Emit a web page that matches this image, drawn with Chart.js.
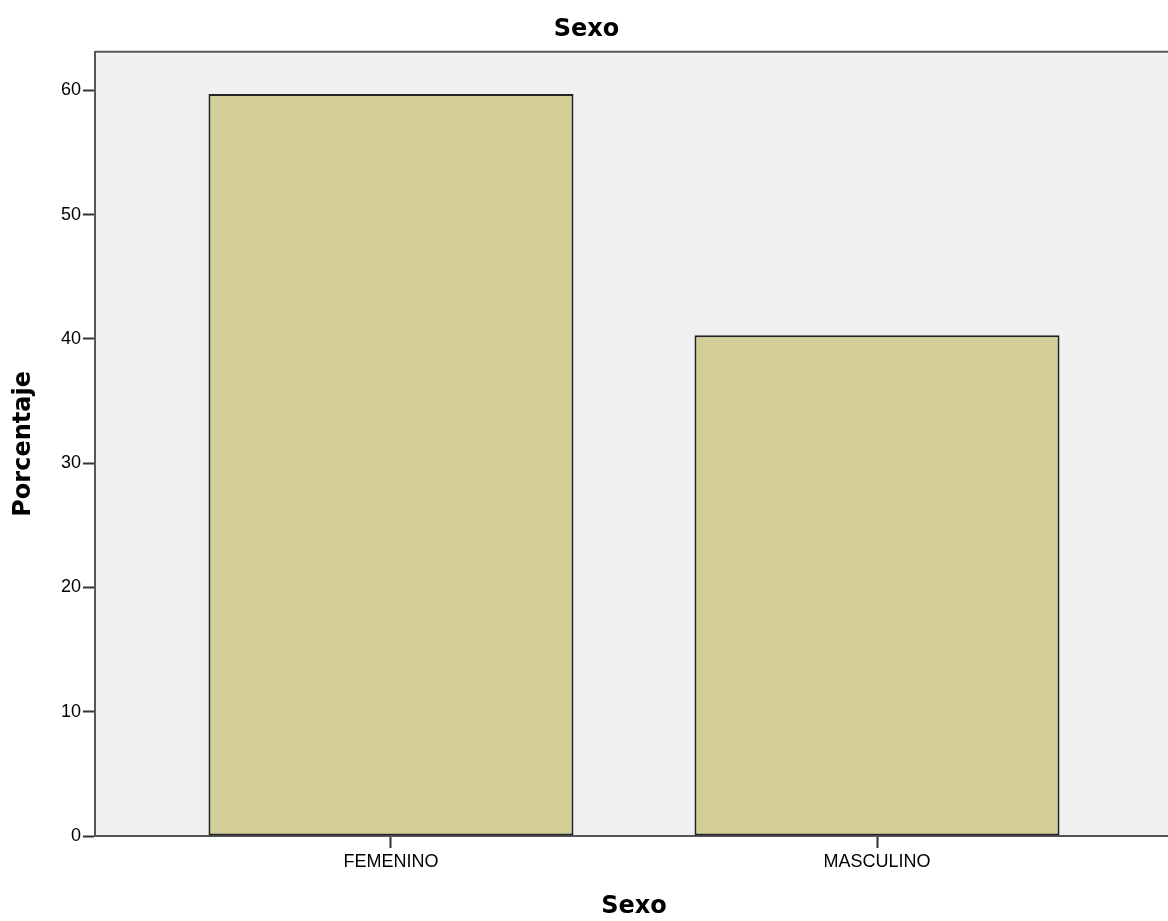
<!DOCTYPE html>
<html>
<head>
<meta charset="utf-8">
<title>Sexo</title>
<script src="https://cdn.jsdelivr.net/npm/chart.js@4.4.1/dist/chart.umd.min.js"></script>
<style>
  html, body { margin: 0; padding: 0; background: #fff; overflow: hidden; }
  #wrap { width: 1176px; height: 921px; }
</style>
</head>
<body>
<div id="wrap"><canvas id="chart" width="1176" height="921"></canvas></div>
<script>
// values
const categories = ['FEMENINO', 'MASCULINO'];
const percentages = [59.7, 40.3];
const yTicks = [0, 10, 20, 30, 40, 50, 60];

// grey plot background plus the top frame line
const plotFrame = {
  id: 'plotFrame',
  beforeDraw(chart) {
    const { ctx, chartArea: a } = chart;
    ctx.save();
    ctx.fillStyle = '#f0f0f0';
    ctx.fillRect(a.left, a.top, a.right - a.left, a.bottom - a.top);
    ctx.restore();
  },
  afterDraw(chart) {
    const { ctx, chartArea: a } = chart;
    ctx.save();
    ctx.strokeStyle = '#5a5a5a';
    ctx.lineWidth = 2;
    ctx.beginPath();
    ctx.moveTo(a.left, a.top);
    ctx.lineTo(a.right, a.top);
    ctx.stroke();
    ctx.restore();
  }
};

const titleFont = { family: 'DejaVu Sans', size: 24, weight: 'bold' };
const tickFont = { family: 'Liberation Sans', size: 18 };

const ctx = document.getElementById('chart').getContext('2d');
new Chart(ctx, {
  type: 'bar',
  data: {
    datasets: [{
      label: 'Porcentaje',
      data: percentages.map((v, i) => ({ x: i, y: v })),
      backgroundColor: '#d3ce98',
      borderColor: '#222',
      borderWidth: 2,
      borderSkipped: false,
      categoryPercentage: 1,
      barPercentage: 0.751
    }]
  },
  options: {
    responsive: false,
    animation: false,
    devicePixelRatio: 1,
    layout: { padding: { left: 0, right: 3, top: 0, bottom: 0 } },
    plugins: {
      legend: { display: false },
      tooltip: { enabled: false },
      title: {
        display: true,
        text: 'Sexo',
        color: '#000',
        font: titleFont,
        padding: { top: 15, bottom: 8 }
      }
    },
    scales: {
      x: {
        type: 'linear',
        offset: false,
        min: -0.609,
        max: 1.609,
        afterBuildTicks: (scale) => { scale.ticks = categories.map((_, i) => ({ value: i })); },
        afterFit: (scale) => { scale.height = 85; },
        ticks: {
          color: '#000',
          font: tickFont,
          padding: 3,
          callback: (value) => categories[value]
        },
        grid: {
          offset: false,
          drawOnChartArea: false,
          tickLength: 12,
          tickColor: '#333',
          tickWidth: 2
        },
        border: { display: true, color: '#555', width: 2 },
        title: {
          display: true,
          text: 'Sexo',
          color: '#000',
          font: titleFont,
          padding: { top: 0, bottom: 0 }
        }
      },
      y: {
        min: 0,
        max: 63.1,
        afterBuildTicks: (scale) => { scale.ticks = yTicks.map(v => ({ value: v })); },
        afterFit: (scale) => { scale.width = 95; },
        ticks: {
          color: '#000',
          font: tickFont,
          padding: 2
        },
        grid: {
          drawOnChartArea: false,
          tickLength: 12,
          tickColor: '#333',
          tickWidth: 2
        },
        border: { display: true, color: '#555', width: 2 },
        title: {
          display: true,
          text: 'Porcentaje',
          color: '#000',
          font: titleFont,
          padding: { top: 9, bottom: 0 }
        }
      }
    }
  },
  plugins: [plotFrame]
});
</script>
</body>
</html>
